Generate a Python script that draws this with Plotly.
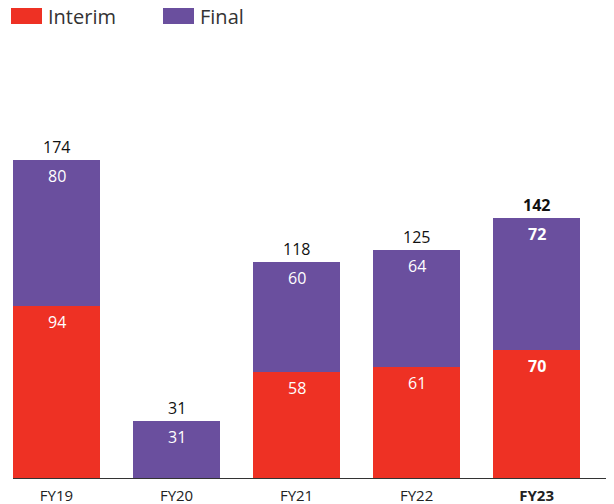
import plotly.graph_objects as go

categories = ["FY19", "FY20", "FY21", "FY22", "FY23"]
interim = [94, 0, 58, 61, 70]
final = [80, 31, 60, 64, 72]
tick_labels = ["FY19", "FY20", "FY21", "FY22", "<b>FY23</b>"]
bold_flags = [False, False, False, False, True]

RED = "#EE3124"
PURPLE = "#6A4F9E"
FONT = "'Open Sans', sans-serif"

totals = [a + b for a, b in zip(interim, final)]
x_idx = list(range(len(categories)))
BW = 0.725

W, H = 614, 504
OFF = 8  # default page body margin
M_L, M_R, M_T, M_B = 13 - OFF, 614 - 611 + OFF, 60 - OFF, 504 - 478 + OFF

fig = go.Figure()
fig.add_trace(go.Bar(x=x_idx, y=interim, marker_color=RED, width=BW, name="Interim",
                     marker_line_width=0, showlegend=False, hoverinfo="skip"))
fig.add_trace(go.Bar(x=x_idx, y=final, marker_color=PURPLE, width=BW, name="Final",
                     marker_line_width=0, showlegend=False, hoverinfo="skip"))

annotations = []
for i, (a, b, t, bold) in enumerate(zip(interim, final, totals, bold_flags)):
    def fmt(v):
        return f"<b>{v}</b>" if bold else str(v)
    annotations.append(dict(x=i, y=t, xref="x", yref="y", text=fmt(t), showarrow=False,
                            yanchor="bottom", yshift=0,
                            font=dict(family=FONT, size=16, color="#111111")))
    if a > 0:
        annotations.append(dict(x=i, y=a, xref="x", yref="y", text=fmt(a), showarrow=False,
                                yanchor="top", yshift=-3,
                                font=dict(family=FONT, size=16, color="white")))
    if b > 0:
        annotations.append(dict(x=i, y=a + b, xref="x", yref="y", text=fmt(b), showarrow=False,
                                yanchor="top", yshift=-3,
                                font=dict(family=FONT, size=16, color="white")))

fig.update_layout(
    width=W, height=H,
    margin=dict(l=M_L, r=M_R, t=M_T, b=M_B, autoexpand=False),
    plot_bgcolor="white", paper_bgcolor="white",
    barmode="stack",
    xaxis=dict(range=[-0.3625, 4.62], tickmode="array", tickvals=x_idx, ticktext=tick_labels,
               showgrid=False, zeroline=False, showline=True, linecolor="#333333", linewidth=1,
               ticks="", ticklabelstandoff=4,
               tickfont=dict(family=FONT, size=15, color="#222222"), fixedrange=True,
               automargin=False),
    yaxis=dict(range=[0, 228.7], visible=False, fixedrange=True),
    showlegend=False,
)

plot_h = H - M_T - M_B
def py(y_page):
    y_fig = y_page - OFF
    return (H - M_B - y_fig) / plot_h
plot_w = W - M_L - M_R
def px(x_page):
    return (x_page - OFF - M_L) / plot_w

legend_items = [("Interim", RED, 11), ("Final", PURPLE, 163)]
shp = []
for name, col, x0 in legend_items:
    shp.append(dict(type="rect", xref="paper", yref="paper",
                    x0=px(x0), x1=px(x0 + 31), y0=py(24), y1=py(8),
                    line_width=0, fillcolor=col))
    annotations.append(dict(xref="paper", yref="paper", x=px(x0 + 35), y=py(17),
                            xanchor="left", yanchor="middle", text=name, showarrow=False,
                            font=dict(family=FONT, size=20, color="#333333")))
fig.update_layout(shapes=shp, annotations=annotations)

fig.write_html("out.html")
